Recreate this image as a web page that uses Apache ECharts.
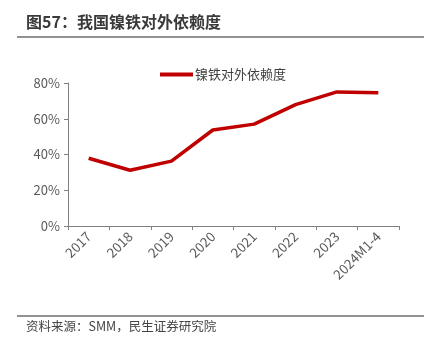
<!DOCTYPE html>
<html>
<head>
<meta charset="utf-8">
<script src="https://cdn.jsdelivr.net/npm/echarts@6/dist/echarts.min.js"></script>
<style>
html,body{margin:0;padding:0;background:#fff;}
#c57{width:438px;height:353px;}
</style>
</head>
<body>
<div id="c57"></div>
<script>
// 数据
const categories = ['2017', '2018', '2019', '2020', '2021', '2022', '2023', '2024M1-4']
const dependence = [37.9, 31.2, 36.3, 53.7, 57.0, 67.9, 75.0, 74.5]
const seriesName = '镍铁对外依赖度'

const chart = echarts.init(document.getElementById('c57'))
const font = '"Microsoft YaHei","Noto Sans CJK SC",sans-serif'
const option = {
  backgroundColor: '#fff',
  animation: false,
  title: {
    text: '图57：我国镍铁对外依赖度',
    left: 21, top: 9,
    textStyle: {fontSize: 16, fontWeight: 'bold', color: '#3a3a3a', fontFamily: font}
  },
  graphic: [
    {type: 'line', shape: {x1: 17, y1: 37, x2: 424, y2: 37}, style: {stroke: '#6e6e6e', lineWidth: 1.5}},
    {type: 'line', shape: {x1: 17, y1: 316, x2: 424, y2: 316}, style: {stroke: '#6e6e6e', lineWidth: 1.5}},
    {type: 'text', left: 26, top: 320, style: {text: '资料来源：SMM，民生证券研究院', fontSize: 12.5, fill: '#444', fontFamily: font}}
  ],
  legend: {
    data: [seriesName],
    left: 155, top: 63,
    itemWidth: 33, itemHeight: 4, itemGap: 4,
    icon: 'rect',
    textStyle: {fontSize: 13, color: '#404040', fontFamily: font, padding: [0, 0, 0, -3]}
  },
  grid: {left: 68, right: 39, top: 83, bottom: 127},
  xAxis: {
    type: 'category',
    data: categories,
    boundaryGap: true,
    axisLine: {lineStyle: {color: '#808080', width: 1}},
    axisTick: {show: true, length: 4, lineStyle: {color: '#808080'}},
    axisLabel: {rotate: 45, fontSize: 13.5, color: '#595959', margin: 8, fontFamily: font, interval: 0}
  },
  yAxis: {
    type: 'value',
    min: 0, max: 80, interval: 20,
    splitLine: {show: false},
    axisLine: {show: true, lineStyle: {color: '#808080', width: 1}},
    axisTick: {show: true, length: 4, inside: false, lineStyle: {color: '#808080'}},
    axisLabel: {formatter: '{value}%', fontSize: 13, color: '#595959', margin: 8, fontFamily: font}
  },
  series: [{
    name: seriesName,
    type: 'line',
    data: dependence,
    symbol: 'none',
    lineStyle: {color: '#C00000', width: 3.5},
    itemStyle: {color: '#C00000'}
  }]
}
chart.setOption(option)
</script>
</body>
</html>
